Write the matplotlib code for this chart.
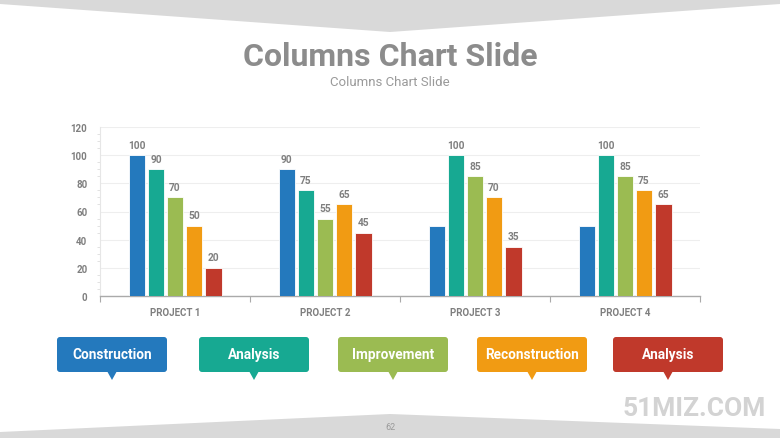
import matplotlib
matplotlib.use("Agg")
import matplotlib.pyplot as plt
import numpy as np
from matplotlib.patches import Polygon, FancyBboxPatch

plt.rcParams['font.family'] = ['Roboto', 'DejaVu Sans']

# data
projects = ['PROJECT 1', 'PROJECT 2', 'PROJECT 3', 'PROJECT 4']
series = ['Construction', 'Analysis', 'Improvement', 'Reconstruction', 'Analysis']
values = [
    [100, 90, 50, 50],   # Construction
    [90, 75, 100, 100],  # Analysis
    [70, 55, 85, 85],    # Improvement
    [50, 65, 70, 75],    # Reconstruction
    [20, 45, 35, 65],    # Analysis
]
# which bars carry a value label (the two short blue ones have none)
show_label = [
    [True, True, False, False],
    [True, True, True, True],
    [True, True, True, True],
    [True, True, True, True],
    [True, True, True, True],
]
colors = ['#2479BD', '#17A992', '#9BBB52', '#F19B13', '#C0392B']
yticks = [0, 20, 40, 60, 80, 100, 120]

W, H = 780, 439
fig = plt.figure(figsize=(W / 100, H / 100), dpi=100)

# background layer in pixel coordinates
bg = fig.add_axes([0, 0, 1, 1])
bg.set_xlim(0, W)
bg.set_ylim(H, 0)
bg.axis('off')
bg.add_patch(Polygon([(0, 0), (W, 0), (W, 5), (W / 2, 33), (0, 5)], closed=True,
                     facecolor='#d9d9d9', edgecolor='none'))
bg.add_patch(Polygon([(0, H), (W, H), (W, 430), (W / 2, 415), (0, 433)], closed=True,
                     facecolor='#d9d9d9', edgecolor='none'))
bg.text(W / 2, 57, 'Columns Chart Slide', ha='center', va='center', fontsize=23,
        fontweight='bold', color='#8c8c8c')
bg.text(W / 2, 82, 'Columns Chart Slide', ha='center', va='center', fontsize=9.5,
        color='#9a9a9a')
bg.text(W / 2, 428, '62', ha='center', va='center', fontsize=6.5, color='#9a9a9a')
bg.text(766, 409, '51MIZ.COM', ha='right', va='center', fontsize=19,
        fontweight='bold', color='#d3d3d3')

# callout boxes
box_left = [57, 199, 338, 477, 613]
box_w, box_top, box_h = 110, 338, 35
for i, name in enumerate(series):
    x0 = box_left[i]
    bg.add_patch(FancyBboxPatch((x0 + 3, box_top + 3), box_w - 6, box_h - 6,
                                boxstyle='round,pad=3', facecolor=colors[i],
                                edgecolor='none'))
    bg.add_patch(Polygon([(x0 + 3, box_top), (x0 + box_w - 3, box_top),
                          (x0 + box_w - 3, box_top + 8), (x0 + 3, box_top + 8)],
                         closed=True, facecolor=colors[i], edgecolor='none'))
    cx = x0 + box_w / 2
    bg.add_patch(Polygon([(cx - 5, box_top + box_h - 1), (cx + 5, box_top + box_h - 1),
                          (cx, box_top + box_h + 8)], closed=True,
                         facecolor=colors[i], edgecolor='none'))
    bg.text(cx, box_top + box_h / 2, name, ha='center', va='center', fontsize=9.8,
            fontweight='bold', color='white')

# chart
ax = fig.add_axes([100 / W, (H - 297) / H, 600 / W, 169 / H])
ax.set_facecolor('none')
x = np.arange(len(projects))
pitch, width = 0.127, 0.112
for i in range(len(series)):
    pos = x + (i - 2) * pitch
    ax.bar(pos, values[i], width=width, color=colors[i], edgecolor='white',
           linewidth=0.6, zorder=3)
    for j, v in enumerate(values[i]):
        if show_label[i][j]:
            ax.annotate(str(v), (pos[j], v), xytext=(0, 4), textcoords='offset points',
                        ha='center', va='bottom', fontsize=7.3, fontweight='bold',
                        color='#7f7f7f')

ax.set_xlim(-0.5, 3.5)
ax.set_ylim(0, 120)
ax.set_yticks(yticks)
ax.set_yticks(np.arange(0, 121, 5), minor=True)
ax.yaxis.grid(True, color='#eeeeee', linewidth=0.8, zorder=0)
ax.set_axisbelow(True)
ax.set_xticks(x)
ax.set_xticklabels(projects)
ax.set_xticks(np.arange(-0.5, 3.6, 1), minor=True)
ax.tick_params(axis='x', which='major', length=0, pad=8, labelsize=7, labelcolor='#7f7f7f')
ax.tick_params(axis='x', which='minor', length=4, color='#aaaaaa', width=0.8)
ax.tick_params(axis='y', which='major', length=0, pad=9, labelsize=7, labelcolor='#7f7f7f')
ax.tick_params(axis='y', which='minor', length=2, color='#dddddd', width=0.6)
for lab in ax.get_xticklabels() + ax.get_yticklabels():
    lab.set_fontweight('bold')
for s in ['top', 'right']:
    ax.spines[s].set_visible(False)
ax.spines['left'].set_color('#e6e6e6')
ax.spines['left'].set_linewidth(0.8)
ax.spines['bottom'].set_color('#aaaaaa')
ax.spines['bottom'].set_linewidth(1.0)

fig.savefig('out.png', dpi=100)
